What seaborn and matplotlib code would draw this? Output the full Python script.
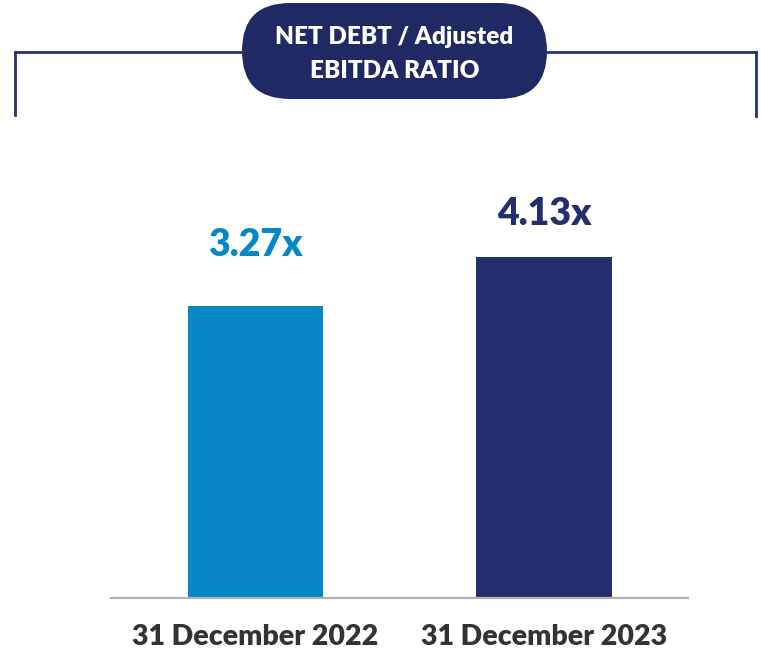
import matplotlib
matplotlib.use("Agg")
import matplotlib.pyplot as plt
import seaborn as sns
import pandas as pd
from matplotlib.patches import FancyBboxPatch
from matplotlib.lines import Line2D
from matplotlib.transforms import IdentityTransform

# ---- data ----
categories = ["31 December 2022", "31 December 2023"]
values = [3.27, 4.13]
value_labels = ["3.27x", "4.13x"]
title_lines = ["NET DEBT / Adjusted", "EBITDA RATIO"]

# ---- style ----
bar_colors = ["#0787C5", "#24306E"]
navy = "#1F2A64"
line_navy = "#27326F"
base = -1.907  # visual baseline of value axis

sns.set_theme(style="white")
plt.rcParams["font.family"] = ["Lato", "DejaVu Sans"]

W, H = 761, 652
fig = plt.figure(figsize=(W / 100, H / 100), dpi=100)
ax_bottom_px = 597.5
ax_top_px = 150
ax = fig.add_axes([111.25 / W, 1 - ax_bottom_px / H, 577 / W, (ax_bottom_px - ax_top_px) / H])

df = pd.DataFrame({"period": categories, "ratio": values})
sns.barplot(data=df, x="period", y="ratio", hue="period", palette=bar_colors,
            width=0.468, legend=False, ax=ax, saturation=1)

for p in ax.patches:
    top = p.get_y() + p.get_height()
    p.set_y(base)
    p.set_height(top - base)
    p.set_edgecolor("none")

px_per_unit = 56.4
ax.set_xlim(-0.5, 1.5)
ax.set_ylim(base, base + (ax_bottom_px - ax_top_px) / px_per_unit)

offsets = [36, 23]
for i, (v, lab) in enumerate(zip(values, value_labels)):
    ax.annotate(lab, xy=(i, v), xytext=(0, offsets[i]), textcoords="offset points",
                ha="center", va="baseline", fontsize=27, fontweight="heavy",
                color=bar_colors[i], annotation_clip=False)

for s in ["top", "right", "left"]:
    ax.spines[s].set_visible(False)
ax.spines["bottom"].set_color("#B3B3B3")
ax.spines["bottom"].set_linewidth(1.6)
ax.set_yticks([])
ax.set_xlabel("")
ax.set_ylabel("")
ax.tick_params(axis="x", length=0, pad=19)
for t in ax.get_xticklabels():
    t.set_fontsize(20.5)
    t.set_fontweight("heavy")
    t.set_color("#333333")

# ---- header bracket and pill (pixel coordinates) ----
def dy(y):
    return H - y

lw = 2.0
ident = IdentityTransform()
for xs, ys in [([15, 243], [51.5, 51.5]), ([546, 756], [51.5, 51.5]),
               ([15, 15], [51.5, 115]), ([756, 756], [51.5, 116])]:
    fig.add_artist(Line2D(xs, [dy(y) for y in ys], transform=ident,
                          color=line_navy, lw=lw, solid_capstyle="projecting"))

px0, px1, py0, py1 = 242, 547, 3, 99
pill = FancyBboxPatch((px0, dy(py1)), px1 - px0, py1 - py0,
                      boxstyle="round,pad=0,rounding_size=48",
                      transform=ident, facecolor=navy, edgecolor="none")
fig.add_artist(pill)
fig.text(394.5 / W, 1 - 37 / H, title_lines[0], ha="center", va="center",
         color="white", fontsize=17.5, fontweight="heavy")
fig.text(394.5 / W, 1 - 71 / H, title_lines[1], ha="center", va="center",
         color="white", fontsize=17.5, fontweight="heavy")

fig.savefig("out.png", dpi=100)
